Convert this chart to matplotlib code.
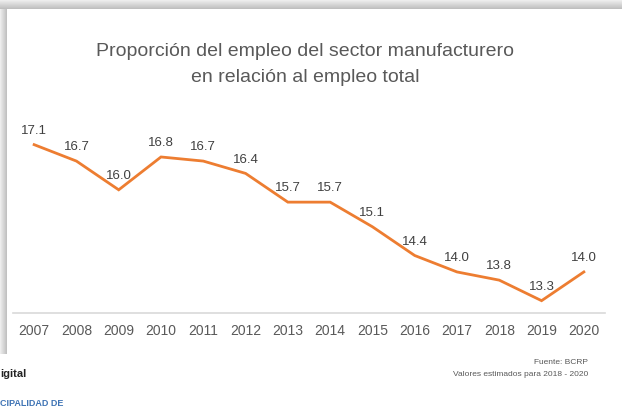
import matplotlib.pyplot as plt
import numpy as np

plt.rcParams['font.family'] = ['Liberation Sans', 'DejaVu Sans']

years = [2007, 2008, 2009, 2010, 2011, 2012, 2013, 2014, 2015, 2016, 2017, 2018, 2019, 2020]
share = [17.1, 16.7, 16.0, 16.8, 16.7, 16.4, 15.7, 15.7, 15.1, 14.4, 14.0, 13.8, 13.3, 14.0]

W, H = 622, 409
fig = plt.figure(figsize=(W / 100, H / 100), dpi=100)

# panel background with a soft shadow on the top and left edges
bg = np.ones((H, W, 3))
top = 9
left = 7
panel_bottom = 354
for i in range(top):
    g = 0.93 - 0.2 * (i / top)
    bg[i, :, :] = g
for j in range(left):
    g = 0.93 - 0.2 * (j / left)
    bg[top:panel_bottom, j, :] = np.minimum(bg[top:panel_bottom, j, :], g)
bax = fig.add_axes([0, 0, 1, 1])
bax.imshow(bg, extent=[0, W, H, 0], aspect='auto')
bax.set_xlim(0, W)
bax.set_ylim(H, 0)
bax.axis('off')

# main chart
ax = fig.add_axes([13 / W, (H - 313) / H, 592 / W, (313 - 107.7) / H])
ax.patch.set_alpha(0)
ax.plot(years, share, color='#ED7D31', lw=2.0, solid_joinstyle='miter')
for x, y in zip(years, share):
    ax.annotate(f'{y:.1f}', (x, y), xytext=(0, 10), textcoords='offset points',
                ha='center', va='center', fontsize=9.5, color='#404040')

ax.set_xlim(2006.5, 2020.5)
ax.set_ylim(13.0, 18.0)
ax.set_xticks(years)
ax.set_xticklabels([str(y) for y in years])
ax.set_yticks([])
ax.tick_params(axis='x', length=0, pad=8, labelsize=10, labelcolor='#595959')
for s in ['top', 'right', 'left']:
    ax.spines[s].set_visible(False)
ax.spines['bottom'].set_color('#D9D9D9')
ax.spines['bottom'].set_linewidth(1.2)

fig.text(305 / W, 1 - 52 / H, 'Proporción del empleo del sector manufacturero',
         ha='center', va='center', fontsize=14, color='#595959')
fig.text(305 / W, 1 - 77 / H, 'en relación al empleo total',
         ha='center', va='center', fontsize=14, color='#595959')

fig.text(588 / W, 1 - 362 / H, 'Fuente: BCRP', ha='right', va='center',
         fontsize=6, color='#595959')
fig.text(588 / W, 1 - 374 / H, 'Valores estimados para 2018 - 2020', ha='right', va='center',
         fontsize=6, color='#595959')

fig.text(0, 1 - 374 / H, 'igital', ha='left', va='center', fontsize=8,
         fontweight='bold', color='#222222')
fig.text(0, 1 - 403 / H, 'CIPALIDAD DE', ha='left', va='center', fontsize=6.5,
         fontweight='bold', color='#3F74B5')

fig.savefig('out.png', dpi=100)
